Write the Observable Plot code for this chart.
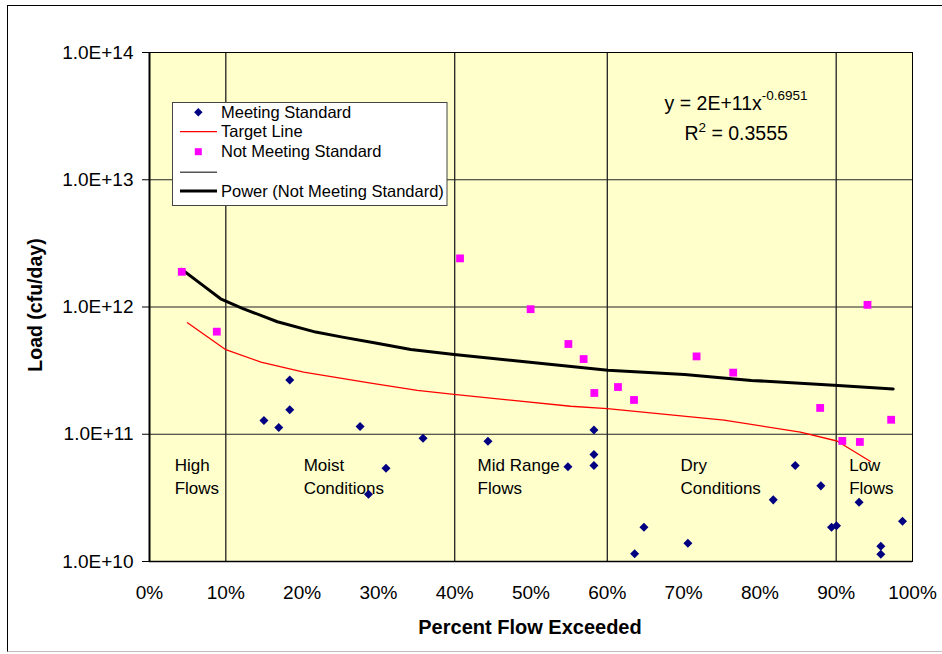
<!DOCTYPE html>
<html>
<head>
<meta charset="utf-8">
<script src="https://cdn.jsdelivr.net/npm/d3@7"></script>
<script src="https://cdn.jsdelivr.net/npm/@observablehq/plot@0.6"></script>
<style>
  body { margin: 0; background: #fff; }
  #wrap { position: relative; width: 942px; height: 654px; overflow: hidden; font-family: "Liberation Sans", Arial, sans-serif; }
  #frame { position: absolute; left: 7px; top: 5px; width: 940px; height: 647px; border-left: 1px solid #000; border-top: 1px solid #000; border-bottom: 1px solid #c0c0c0; box-sizing: border-box; pointer-events: none; }
  #chart { position: absolute; left: 0; top: 0; }
</style>
</head>
<body>
<div id="wrap"><div id="chart"></div><div id="frame"></div></div>
<script>
// ---- data ----
const xTicks = [0, 0.1, 0.2, 0.3, 0.4, 0.5, 0.6, 0.7, 0.8, 0.9, 1.0];
const yTicks = [1e10, 1e11, 1e12, 1e13, 1e14];
const regionBounds = [0.1, 0.4, 0.6, 0.9];
const regionNames = ["High\nFlows", "Moist\nConditions", "Mid Range\nFlows", "Dry\nConditions", "Low\nFlows"];
const regionLabelX = [0.033, 0.202, 0.430, 0.696, 0.917];
const regionLabelY = 4.78e10;

// Meeting Standard (percent flow exceeded, load cfu/day)
const meetX = [0.1838, 0.1838, 0.150, 0.1694, 0.276, 0.3585, 0.310, 0.287,
               0.4436, 0.5484, 0.5825, 0.5825, 0.5825, 0.648, 0.6358, 0.7056,
               0.8175, 0.8463, 0.8799, 0.8939, 0.9004, 0.930, 0.9585, 0.9585, 0.9869];
const meetY = [2.67e11, 1.56e11, 1.28e11, 1.13e11, 1.15e11, 9.29e10, 5.40e10, 3.37e10,
               8.80e10, 5.56e10, 1.08e11, 6.92e10, 5.67e10, 1.86e10, 1.15e10, 1.39e10,
               3.05e10, 5.67e10, 3.93e10, 1.86e10, 1.91e10, 2.92e10, 1.32e10, 1.14e10, 2.07e10];

// Not Meeting Standard
const notX = [0.0423, 0.0882, 0.407, 0.4995, 0.549, 0.569, 0.583, 0.614,
              0.635, 0.717, 0.765, 0.879, 0.908, 0.931, 0.941, 0.972];
const notY = [1.89e12, 6.40e11, 2.41e12, 9.61e11, 5.12e11, 3.90e11, 2.11e11, 2.35e11,
              1.86e11, 4.09e11, 3.05e11, 1.61e11, 8.86e10, 8.70e10, 1.04e12, 1.30e11];

// Target Line
const targetX = [0.0498, 0.100, 0.146, 0.202, 0.290, 0.351, 0.399, 0.552, 0.600, 0.753, 0.853, 0.901, 0.945];
const targetY = [7.53e11, 4.62e11, 3.69e11, 3.08e11, 2.52e11, 2.21e11, 2.06e11, 1.66e11, 1.59e11, 1.29e11, 1.04e11, 8.85e10, 6.10e10];

// Power (Not Meeting Standard) trendline
const trendX = [0.042, 0.0713, 0.0932, 0.1217, 0.1676, 0.2178, 0.2529, 0.2944,
                0.3425, 0.3993, 0.4825, 0.6007, 0.7012, 0.7887, 0.9025, 0.9747];
const trendY = [1.98e12, 1.46e12, 1.16e12, 9.77e11, 7.66e11, 6.35e11, 5.80e11, 5.24e11,
                4.64e11, 4.24e11, 3.76e11, 3.18e11, 2.95e11, 2.65e11, 2.42e11, 2.27e11];

const legendLabels = ["Meeting Standard", "Target Line", "Not Meeting Standard", "", "Power (Not Meeting Standard)"];
const equationMain = "y = 2E+11x";
const equationExp = "-0.6951";
const r2Value = " = 0.3555";

// ---- build tables ----
const meet = meetX.map((x, i) => ({x, y: meetY[i]}));
const notMeet = notX.map((x, i) => ({x, y: notY[i]}));
const target = targetX.map((x, i) => ({x, y: targetY[i]}));
const trend = trendX.map((x, i) => ({x, y: trendY[i]}));
const regions = regionNames.map((t, i) => ({x: regionLabelX[i], y: regionLabelY, t}));

const FONT = "'Liberation Sans', Arial, sans-serif";

const chart = Plot.plot({
  width: 942,
  height: 654,
  marginLeft: 149,
  marginRight: 30,
  marginTop: 52,
  marginBottom: 93,
  style: {fontFamily: FONT, background: "transparent", color: "#000", overflow: "visible"},
  x: {domain: [0, 1]},
  y: {type: "log", domain: [1e10, 1e14]},
  marks: [
    Plot.frame({fill: "#FFFFCC"}),
    Plot.ruleY(yTicks, {stroke: "#222", strokeWidth: 1}),
    Plot.ruleX(regionBounds, {stroke: "#222", strokeWidth: 1.3}),
    Plot.frame({stroke: "#000", strokeWidth: 1}),
    Plot.ruleX([0], {stroke: "#000", strokeWidth: 2}),
    Plot.ruleY([1e10], {stroke: "#000", strokeWidth: 1.5}),
    Plot.axisY({ticks: yTicks, tickFormat: d => "1.0E+" + Math.round(Math.log10(d)), tickSize: 7, tickPadding: 9, fontSize: 19, label: null, stroke: "#000"}),
    Plot.axisX({ticks: xTicks, tickFormat: d => Math.round(d * 100) + "%", tickSize: 0, tickPadding: 23.5, fontSize: 19, label: null}),
    Plot.text(regions, {x: "x", y: "y", text: "t", textAnchor: "start", lineAnchor: "middle", lineHeight: 1.35, fontSize: 17, fill: "#000"}),
    Plot.line(target, {x: "x", y: "y", stroke: "#FF0000", strokeWidth: 1.3}),
    Plot.line(trend, {x: "x", y: "y", stroke: "#000", strokeWidth: 3, strokeLinejoin: "round", strokeLinecap: "round"}),
    Plot.dot(meet, {x: "x", y: "y", symbol: "square", rotate: 45, r: 3.6, fill: "#000080", stroke: "none"}),
    Plot.dot(notMeet, {x: "x", y: "y", symbol: "square", r: 4.4, fill: "#FF00FF", stroke: "none"})
  ]
});

document.getElementById("chart").appendChild(chart);

// ---- annotations ----
const svg = d3.select(chart);
const sx = chart.scale("x");

// axis titles
svg.append("text")
  .attr("x", 530).attr("y", 634)
  .attr("text-anchor", "middle")
  .attr("font-family", FONT).attr("font-size", 20).attr("font-weight", "bold")
  .text("Percent Flow Exceeded");
svg.append("text")
  .attr("transform", "translate(42,305) rotate(-90)")
  .attr("text-anchor", "middle")
  .attr("font-family", FONT).attr("font-size", 19.5).attr("font-weight", "bold")
  .text("Load (cfu/day)");

// equation
const eqX = sx.apply(0.7695);
const eq1 = svg.append("text").attr("x", eqX).attr("y", 110).attr("text-anchor", "middle")
  .attr("font-family", FONT).attr("font-size", 19.5);
eq1.append("tspan").text(equationMain);
eq1.append("tspan").attr("font-size", 13.5).attr("dy", -10).text(equationExp);
const eq2 = svg.append("text").attr("x", eqX).attr("y", 140).attr("text-anchor", "middle")
  .attr("font-family", FONT).attr("font-size", 19.5);
eq2.append("tspan").text("R");
eq2.append("tspan").attr("font-size", 13.5).attr("dy", -8).text("2");
eq2.append("tspan").attr("dy", 8).text(r2Value);

// legend
const lg = svg.append("g").attr("font-family", FONT).attr("font-size", 16.5).attr("text-anchor", "start");
lg.append("rect").attr("x", 172.5).attr("y", 102.5).attr("width", 274.5).attr("height", 103)
  .attr("fill", "#fff").attr("stroke", "#444").attr("stroke-width", 1);
const rowY = [112.3, 131.7, 151.7, 172.3, 191];
// row 0: diamond
lg.append("rect").attr("x", -3).attr("y", -3).attr("width", 6).attr("height", 6)
  .attr("transform", `translate(198.3,${rowY[0]}) rotate(45)`).attr("fill", "#000080");
// row 1: red line
lg.append("line").attr("x1", 180).attr("x2", 217).attr("y1", rowY[1]).attr("y2", rowY[1]).attr("stroke", "#FF0000").attr("stroke-width", 1.3);
// row 2: pink square
lg.append("rect").attr("x", 194.8).attr("y", rowY[2] - 3.5).attr("width", 7).attr("height", 7).attr("fill", "#FF00FF");
// row 3: gray line
lg.append("line").attr("x1", 180).attr("x2", 217).attr("y1", rowY[3]).attr("y2", rowY[3]).attr("stroke", "#555").attr("stroke-width", 1.5);
// row 4: black thick line
lg.append("line").attr("x1", 180).attr("x2", 217).attr("y1", rowY[4]).attr("y2", rowY[4]).attr("stroke", "#000").attr("stroke-width", 3);
legendLabels.forEach((t, i) => {
  if (!t) return;
  lg.append("text").attr("x", 221).attr("y", rowY[i]).attr("dy", "0.35em").attr("text-anchor", "start").text(t);
});
</script>
</body>
</html>
